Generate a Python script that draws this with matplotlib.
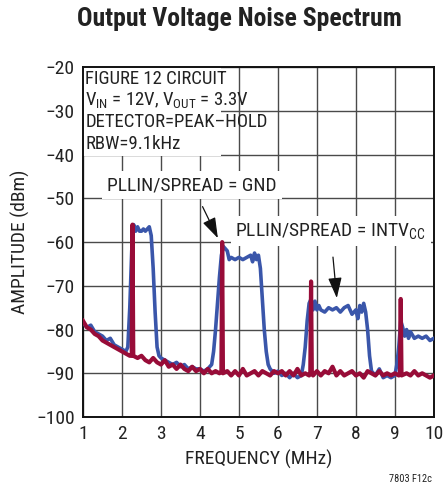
import matplotlib
matplotlib.use("Agg")
import matplotlib.pyplot as plt
from matplotlib import font_manager

names = {f.name for f in font_manager.fontManager.ttflist}
FONT = "Liberation Sans"
for cand in ["Nimbus Sans Narrow", "Liberation Sans Narrow", "Arial Narrow", "Roboto Condensed",
             "Archivo Narrow", "PT Sans Narrow", "Fira Sans Condensed", "Barlow Semi Condensed"]:
    if cand in names:
        FONT = cand
        break
plt.rcParams["font.family"] = [FONT, "DejaVu Sans"]
plt.rcParams["mathtext.fontset"] = "custom"
plt.rcParams["mathtext.rm"] = FONT
plt.rcParams["mathtext.default"] = "rm"

# Spread-spectrum enabled (PLLIN/SPREAD = INTVcc)
freq_spread = [1.0, 1.1, 1.2, 1.3, 1.4, 1.5, 1.6, 1.7, 1.8, 1.9, 2.0, 2.1, 2.15, 2.2, 2.25,
               2.3, 2.35, 2.4, 2.45, 2.5, 2.55, 2.6, 2.65, 2.7, 2.75, 2.8, 2.85, 2.9, 2.95,
               3.0, 3.1, 3.2, 3.3, 3.4, 3.5, 3.6, 3.7, 3.8, 3.9, 4.0, 4.1, 4.2, 4.3, 4.35,
               4.4, 4.45, 4.5, 4.55, 4.6, 4.7, 4.75, 4.8, 4.9, 5.0, 5.1, 5.2, 5.3, 5.35,
               5.4, 5.45, 5.5, 5.55, 5.6, 5.65, 5.7, 5.75, 5.8, 5.9, 6.0, 6.1, 6.2, 6.3,
               6.4, 6.5, 6.6, 6.65, 6.7, 6.75, 6.8, 6.85, 6.9, 6.95, 7.0, 7.05, 7.1, 7.2,
               7.3, 7.4, 7.5, 7.6, 7.7, 7.8, 7.9, 8.0, 8.05, 8.1, 8.15, 8.2, 8.25, 8.3,
               8.35, 8.4, 8.5, 8.6, 8.7, 8.8, 8.9, 9.0, 9.05, 9.1, 9.15, 9.2, 9.25, 9.3,
               9.35, 9.4, 9.5, 9.6, 9.7, 9.8, 9.9, 10.0]
amp_spread = [-78.5, -79.5, -79.0, -80.5, -81.0, -81.5, -82.5, -82.0, -83.5, -84.0, -84.5,
              -85.0, -84.0, -75.0, -62.0, -56.0, -57.5, -56.5, -57.5, -57.5, -57.0, -57.5,
              -57.0, -56.5, -58.5, -66.0, -76.0, -84.0, -86.0, -86.5, -87.0, -87.5, -88.0,
              -87.5, -88.5, -88.0, -89.0, -88.5, -89.0, -89.0, -89.5, -89.0, -88.0, -85.0,
              -80.0, -74.0, -68.0, -63.0, -61.0, -62.0, -64.0, -63.5, -64.0, -63.5, -64.0,
              -63.5, -63.0, -64.5, -62.5, -64.0, -63.0, -66.0, -73.0, -80.0, -85.0, -88.0,
              -89.0, -90.0, -89.5, -90.5, -90.0, -91.0, -90.0, -91.0, -90.5, -88.0, -84.0,
              -78.0, -74.0, -73.0, -75.5, -73.5, -75.5, -74.5, -75.5, -76.0, -75.0, -75.5,
              -75.0, -76.0, -75.0, -74.5, -76.5, -75.5, -77.5, -74.5, -76.0, -74.0, -76.0,
              -80.0, -86.0, -89.5, -90.5, -89.0, -91.0, -90.5, -91.0, -90.5, -88.0, -84.0,
              -78.0, -79.5, -81.5, -80.0, -82.0, -80.5, -82.0, -81.5, -82.0, -81.5, -82.5,
              -82.0]

# Fixed frequency (PLLIN/SPREAD = GND)
freq_fixed = [1.0, 1.1, 1.2, 1.3, 1.4, 1.5, 1.6, 1.7, 1.8, 1.9, 2.0, 2.1, 2.2, 2.25, 2.27,
              2.29, 2.4, 2.5, 2.6, 2.7, 2.8, 2.9, 3.0, 3.1, 3.2, 3.3, 3.4, 3.5, 3.6, 3.7,
              3.8, 3.9, 4.0, 4.1, 4.2, 4.3, 4.4, 4.5, 4.55, 4.57, 4.59, 4.7, 4.8, 4.9, 5.0,
              5.1, 5.2, 5.3, 5.4, 5.5, 5.6, 5.7, 5.8, 5.9, 6.0, 6.1, 6.2, 6.3, 6.4, 6.5,
              6.6, 6.7, 6.8, 6.83, 6.85, 6.87, 6.9, 7.0, 7.1, 7.2, 7.3, 7.4, 7.5, 7.6, 7.7,
              7.8, 7.9, 8.0, 8.1, 8.2, 8.3, 8.4, 8.5, 8.6, 8.7, 8.8, 8.9, 9.0, 9.1, 9.13,
              9.15, 9.17, 9.3, 9.4, 9.5, 9.6, 9.7, 9.8, 9.9, 10.0]
amp_fixed = [-78.0, -79.5, -80.0, -81.0, -81.5, -82.5, -83.0, -83.5, -84.0, -84.5, -85.0,
             -85.5, -86.0, -86.0, -56.0, -86.0, -86.5, -86.0, -87.0, -87.5, -86.5, -87.5,
             -88.0, -87.0, -88.5, -88.0, -89.0, -88.0, -89.0, -89.5, -88.5, -89.5, -89.0,
             -90.0, -89.0, -90.0, -89.5, -90.0, -89.5, -60.0, -90.0, -89.5, -90.5, -89.5,
             -90.5, -89.0, -90.5, -90.0, -89.5, -90.5, -89.5, -90.0, -90.5, -89.5, -90.0,
             -89.5, -90.5, -89.5, -90.5, -89.0, -90.5, -90.0, -90.5, -90.0, -69.0, -90.0,
             -90.5, -89.5, -90.5, -89.5, -90.0, -88.5, -90.5, -89.5, -90.5, -90.0, -89.5,
             -90.5, -90.0, -91.0, -89.5, -90.0, -90.5, -89.5, -90.5, -90.0, -90.5, -90.0,
             -90.5, -90.0, -73.0, -90.5, -90.0, -90.5, -89.5, -90.5, -90.0, -90.5, -91.0,
             -90.5]

x_ticks = [1, 2, 3, 4, 5, 6, 7, 8, 9, 10]
y_ticks = [-100, -90, -80, -70, -60, -50, -40, -30, -20]

BLUE = "#3a56aa"
RED = "#980c38"
INK = "#222222"

fig = plt.figure(figsize=(4.45, 4.87), dpi=100)
ax = fig.add_axes([0.1865, 0.1437, 0.7885, 0.7183])

ax.plot(freq_spread, amp_spread, color=BLUE, lw=2.6, zorder=3, solid_joinstyle="round")
ax.plot(freq_fixed, amp_fixed, color=RED, lw=3.0, zorder=4, solid_joinstyle="round")

ax.set_xlim(1, 10)
ax.set_ylim(-100, -20)
ax.set_xticks(x_ticks)
ax.set_yticks(y_ticks)
ax.set_xticklabels([str(v) for v in x_ticks])
ax.set_yticklabels([("\u2212%d" % -v) for v in y_ticks])
ax.tick_params(length=0, labelsize=14, pad=6, colors=INK)
ax.grid(True, color="#4a4a4a", lw=1.0)
ax.set_axisbelow(True)
for s in ax.spines.values():
    s.set_linewidth(1.4)
    s.set_color("#111111")

ax.set_xlabel("FREQUENCY (MHz)", fontsize=14, labelpad=5, color=INK)
ax.set_ylabel("AMPLITUDE (dBm)", fontsize=14, labelpad=4, color=INK)

fig.text(0.537, 0.96, "Output Voltage Noise Spectrum", ha="center", va="center",
         fontsize=18.5, fontweight="bold", color=INK)
fig.text(0.97, 0.017, "7803 F12c", ha="right", va="center", fontsize=7.5, color=INK)

# Condition block in the upper-left corner
ax.add_patch(plt.Rectangle((1.0, -40.3), 3.55, 20.3, facecolor="white", edgecolor="none",
                           zorder=2))
cond = ["FIGURE 12 CIRCUIT",
        r"V$_{\mathregular{IN}}$ = 12V, V$_{\mathregular{OUT}}$ = 3.3V",
        "DETECTOR=PEAK\u2013HOLD",
        "RBW=9.1kHz"]
for i, line in enumerate(cond):
    ax.text(1.06, -22.6 - i * 5.0, line, ha="left", va="center", fontsize=13.5,
            color=INK, zorder=5)

bbox = dict(boxstyle="square,pad=0.25", facecolor="white", edgecolor="none")
ax.annotate("PLLIN/SPREAD = GND", xy=(4.46, -59.1), xytext=(3.8, -47.0),
            ha="center", va="center", fontsize=14, color=INK, bbox=bbox, zorder=6,
            arrowprops=dict(arrowstyle="-|>,head_length=0.9,head_width=0.3", color="#111111",
                            lw=0.9, shrinkA=6, shrinkB=0))
ax.annotate(r"PLLIN/SPREAD = INTV$_{\mathregular{CC}}$", xy=(7.51, -72.8), xytext=(7.35, -57.5),
            ha="center", va="center", fontsize=14, color=INK, bbox=bbox, zorder=6,
            arrowprops=dict(arrowstyle="-|>,head_length=0.9,head_width=0.3", color="#111111",
                            lw=0.9, shrinkA=8, shrinkB=0))

fig.savefig("out.png", dpi=100)
